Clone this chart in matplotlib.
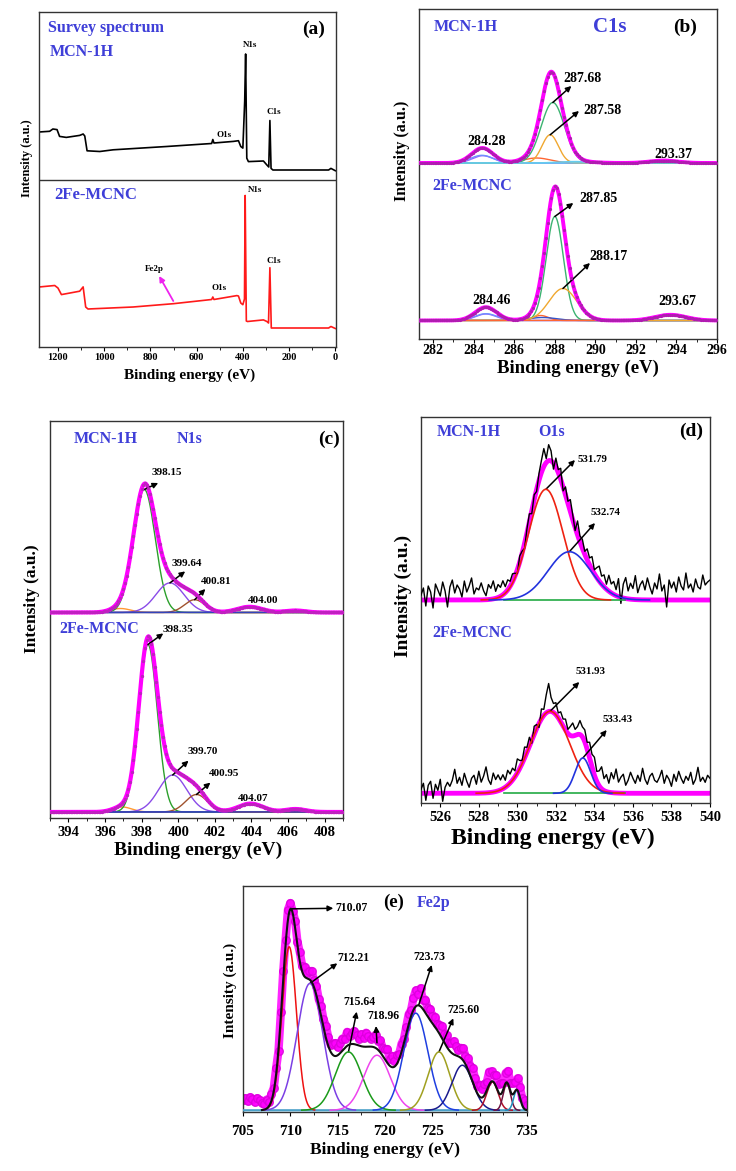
import numpy as np
import matplotlib
matplotlib.use('Agg')
import matplotlib.pyplot as plt
from matplotlib.ticker import MultipleLocator

W, H = 736, 1171
plt.rcParams['font.family'] = ['Liberation Serif', 'DejaVu Serif']
plt.rcParams['font.weight'] = 'bold'

BLUE = '#3f3fd8'
MAG = '#ff00ff'

# ---------------- data ----------------
# (a) survey spectra (binding energy, intensity a.u.)
survey_top_be = [1282, 1236, 1222, 1204, 1193, 1164, 1106, 1091, 1084, 1074,
                 1019, 961, 730, 535, 530, 525, 441, 419, 409, 400,
                 392, 388, 383, 376, 311, 296, 288, 283, 278, 270,
                 29, 19, 0]
survey_top_int = [215, 215.7, 218, 217.4, 210.6, 209.6, 211.6, 213, 211, 196.2,
                  195.5, 197.2, 200.5, 203.5, 207.5, 204, 205.6, 206.3, 200.5, 198.9,
                  246, 293, 188.8, 185.4, 186, 182, 180, 226.5, 178.6, 177,
                  177, 178.6, 176.3]
survey_bot_be = [1282, 1214, 1200, 1185, 1106, 1091, 1080, 1070, 875, 701,
                 535, 530, 525, 426, 419, 409, 400, 393, 390, 385,
                 380, 311, 296, 289, 283, 277, 270, 29, 19, 0]
survey_bot_int = [60, 61.5, 59, 52.4, 55.8, 60.1, 40, 38, 40, 43.3,
                  47.5, 50, 47.5, 51.4, 51, 44, 42.3, 48, 151.5, 26,
                  25.5, 27.1, 25.5, 24, 79.3, 19, 19, 19, 20.5, 18.5]

# (b) C1s fitted components: centre (eV), height, FWHM
c1s_top_base = 176
c1s_top_center = [284.45, 284.40, 287.10, 287.77, 287.90, 293.37, 289.0]
c1s_top_height = [7.3, 7.7, 5.0, 28.2, 60.5, 2.5, 1.5]
c1s_top_fwhm = [1.2, 1.3, 1.6, 0.95, 1.35, 1.6, 2.0]
c1s_top_color = ['#9966ff', '#6f8fff', '#ff6633', '#f0a830', '#3cb371', '#66ccee', '#66ccee']
c1s_bot_base = 18.5
c1s_bot_center = [284.6, 284.6, 287.3, 287.4, 288.0, 288.4, 293.7]
c1s_bot_height = [6.5, 6.8, 5.0, 3.0, 104, 32, 5.7]
c1s_bot_fwhm = [1.2, 1.3, 0.9, 1.6, 1.0, 1.6, 1.8]
c1s_bot_color = ['#9966ff', '#6f8fff', '#ff6633', '#3355cc', '#3cb371', '#f0a830', '#ff6633']

# (c) N1s
n1s_top_base = 205.5
n1s_top_center = [396.85, 398.15, 399.55, 400.9, 403.9, 406.4]
n1s_top_height = [4, 123, 29.6, 12.8, 5.7, 2]
n1s_top_fwhm = [1.3, 1.4, 1.8, 1.3, 1.6, 1.3]
n1s_bot_base = 6
n1s_bot_center = [396.95, 398.35, 399.7, 401.0, 403.95, 406.4]
n1s_bot_height = [5, 167.5, 37, 17.5, 8.4, 3]
n1s_bot_fwhm = [1.2, 1.2, 1.8, 1.4, 1.6, 1.3]
n1s_color = ['#ff9933', '#2ca02c', '#8a4be8', '#a0522d', '#3344bb', '#3344bb']

# (d) O1s
o1s_top_base = 203
o1s_top_center = [531.48, 532.70]
o1s_top_height = [110.7, 48.3]
o1s_top_fwhm = [2.1, 2.6]
o1s_bot_base = 9.7
o1s_bot_center = [531.70, 533.40]
o1s_bot_height = [82, 35.3]
o1s_bot_fwhm = [2.4, 0.95]
o1s_color = ['#ee2211', '#2233dd']
o1s_step = 0.125
o1s_top_resid = [
    5, 12, -6, 14, 8, -8, 16, 10, 4, 18, 9, -7,
    13, 20, 7, 15, 11, 3, 19, 8, 14, 22, 6, 12,
    10, 17, 9, 4, 15, 11, 18, 7, 13, 9, 14, 6,
    10, 5, 8, 3, -4, 6, 2, -5, 4, 8, -3, 5,
    -2, 7, 12, 18, 4, 16, 10, -6, 9, 3, 11, -4,
    8, 2, 12, 5, -3, 14, 6, 9, 3, 11, 7, 13,
    4, 10, 15, 8, 12, 5, 16, 9, 13, 6, 18, -6,
    14, 21, 8, 16, 11, 24, 7, 15, 19, 10, 22, 13,
    6, 17, 11, 26, 9, 15, -7, 20, 12, 18, 8, 23,
    14, 10, 27, 12, 16, 8, 21, 13, 11, 25, 15, 18, 20]
o1s_bot_resid = [
    4, 10, -7, 8, 12, -5, 9, 3, 14, -8, 6, 11,
    7, 13, 24, 10, 16, 8, 20, 12, 6, 15, 18, 9,
    22, 11, 17, 26, 13, 8, 19, 12, 16, 10, 14, 7,
    15, 9, 12, 6, 14, 8, 3, 11, 5, 9, -3, 8,
    4, -4, 10, 6, 18, 28, 14, 9, 12, 5, 10, 7,
    11, 4, 9, 13, 6, 8, 14, 10, 12, 7, 16, 13,
    18, 10, 15, 22, 12, 17, 9, 20, 14, 24, 11, 16,
    19, 8, 13, 21, 15, 10, 18, 12, 25, 14, 9, 17,
    20, 13, 11, 16, 23, 10, 18, 14, 7, 19, 12, 22,
    15, 10, 17, 13, 21, 9, 14, 26, 12, 16, 11, 18, 15]

# (e) Fe2p
fe_base = 1.7
fe_center = [709.88, 712.07, 716.14, 719.15, 723.25, 725.7, 728.17, 731.35, 732.87, 733.93]
fe_height = [163.3, 126.7, 58.3, 55.0, 97.0, 58.3, 45.0, 28.3, 26.7, 20.0]
fe_fwhm = [1.8, 3.2, 3.3, 3.3, 3.0, 2.7, 2.6, 1.4, 0.9, 0.8]
fe_color = ['#ee1111', '#7b3fe4', '#1a9a1a', '#ee44ee', '#1f3fe0', '#a0a020',
            '#1a1a8c', '#b0102a', '#701040', '#1f8fbf']
fe_step = 0.25
fe_resid = [
    10, 12, 9, 13, 11, 8, 12, 10, 7,
    6, 9, 4, 7, 3, 6, -2, 4, 8, 5, 10, 6,
    2, 7, 4, 9, 6, 10, 5, 8, 11, 7, 9, 6,
    10, 8, 12, 9, 7, 11, 13, 8, 10, 12, 9, 14,
    8, 11, 13, 10, 7, 12, 9, 14, 11, 8, 10, 13,
    9, 12, 8, 10, 14, 7, 11, 6, 9, 5, 8, 4,
    7, 10, 6, 12, 16, 11, 18, 9, 13, 8, 11, 7,
    10, 6, 9, 12, 8, 11, 7, 10, 13, 9, 6, 10,
    12, 8, 11, 9, 14, 10, 7, 12, 9, 11, 8, 13,
    10, 7, 12, 9, 11, 6, 10, 13, 8, 11, 9, 12, 10, 7, 9, 5]


def gauss(x, c, h, w):
    return h * np.exp(-4 * np.log(2) * (x - c) ** 2 / w ** 2)


def envelope(x, base, centers, heights, fwhms):
    y = np.full_like(x, base, dtype=float)
    for c, h, w in zip(centers, heights, fwhms):
        y = y + gauss(x, c, h, w)
    return y


# ---------------- figure ----------------
fig = plt.figure(figsize=(W / 100, H / 100), dpi=100)


def rect(l, t, r, b):
    return [l / W, 1 - b / H, (r - l) / W, (b - t) / H]


def T(x, y, s, size, color='k', rot=0):
    fig.text(x / W, 1 - y / H, s, fontsize=size, color=color, ha='center',
             va='center', fontweight='bold', rotation=rot)


def A(ax, tail, head, color='k'):
    ax.annotate('', xy=(head[0] / W, 1 - head[1] / H), xycoords='figure fraction',
                xytext=tail, textcoords='data',
                arrowprops=dict(arrowstyle='-|>', color=color, lw=1.1,
                                mutation_scale=8, shrinkA=0, shrinkB=0))


def style(ax, major, minor, fs, pad):
    ax.set_yticks([])
    ax.xaxis.set_major_locator(MultipleLocator(major))
    ax.xaxis.set_minor_locator(MultipleLocator(minor))
    ax.tick_params(axis='x', which='major', direction='out', labelsize=fs, pad=pad,
                   length=3, width=0.8)
    ax.tick_params(axis='x', which='minor', direction='out', length=1.8, width=0.6)
    for s in ax.spines.values():
        s.set_linewidth(1.0)
        s.set_color('#333333')


# ---- (a) survey ----
ax = fig.add_axes(rect(39, 12, 336, 347))
ax.plot(survey_top_be, survey_top_int, color='k', lw=1.2)
ax.plot(survey_bot_be, survey_bot_int, color='#ff1a1a', lw=1.2)
ax.axhline(167, color='#333333', lw=1.0)
ax.set_xlim(1282, -3)
ax.set_ylim(0, 335)
style(ax, 200, 100, 7.5, 1.5)
ax.annotate('', xy=(762, 71), xytext=(701, 46), xycoords='data',
            arrowprops=dict(arrowstyle='-|>', color='#ee22ee', lw=1.3,
                            mutation_scale=8, shrinkA=0, shrinkB=0))
T(106, 27.6, 'Survey spectrum', 11.5, BLUE)
T(81.5, 52, 'MCN-1H', 11.5, BLUE)
T(314, 29, '(a)', 14)
T(250.5, 45, 'N1s', 6.5)
T(273.5, 112, 'C1s', 6.5)
T(224.5, 135, 'O1s', 6.5)
T(96, 195, '2Fe-MCNC', 12, BLUE)
T(255.5, 190, 'N1s', 6.5)
T(273.5, 261, 'C1s', 6.5)
T(154.5, 269, 'Fe2p', 6.5)
T(219, 288, 'O1s', 6.5)
T(190, 375, 'Binding energy (eV)', 11)
T(27, 158, 'Intensity (a.u.)', 9, rot=90)

# ---- (b) C1s ----
ax = fig.add_axes(rect(419, 9, 717, 339))
xb = np.linspace(281.3, 296, 1200)
xbd = np.arange(281.35, 296, 0.09)
for base, cs, hs, ws, cols in [
        (c1s_top_base, c1s_top_center, c1s_top_height, c1s_top_fwhm, c1s_top_color),
        (c1s_bot_base, c1s_bot_center, c1s_bot_height, c1s_bot_fwhm, c1s_bot_color)]:
    for c, h, w, col in zip(cs, hs, ws, cols):
        ax.plot(xb, base + gauss(xb, c, h, w), color=col, lw=1.0, zorder=2)
    ax.plot(xb, envelope(xb, base, cs, hs, ws), color=MAG, lw=2.8, zorder=3)
    ax.plot(xbd, envelope(xbd, base, cs, hs, ws), 'o', color='#b01cb0', ms=1.3, zorder=4)
ax.set_xlim(281.3, 296)
ax.set_ylim(0, 330)
style(ax, 2, 1, 10, 0.8)
A(ax, (c1s_top_center[4], c1s_top_base + c1s_top_height[4]), (571.4, 86))
A(ax, (c1s_top_center[3], c1s_top_base + c1s_top_height[3]), (579, 111))
A(ax, (c1s_bot_center[4], c1s_bot_base + c1s_bot_height[4]), (573.3, 203))
A(ax, (c1s_bot_center[5], c1s_bot_base + c1s_bot_height[5]), (590, 263))
T(465.5, 26.7, 'MCN-1H', 11.5, BLUE)
T(610, 26.7, 'C1s', 15, BLUE)
T(685.5, 27, '(b)', 14)
T(486.5, 141.7, '284.28', 10)
T(583, 78, '287.68', 10)
T(602, 110, '287.58', 10)
T(673, 154, '293.37', 10)
T(472.5, 186, '2Fe-MCNC', 11.5, BLUE)
T(598, 198, '287.85', 10)
T(608, 257, '288.17', 10)
T(492, 300, '284.46', 10)
T(677, 301.7, '293.67', 10)
T(577.5, 368, 'Binding energy (eV)', 13.5)
T(402, 151, 'Intensity (a.u.)', 11.5, rot=90)

# ---- (c) N1s ----
ax = fig.add_axes(rect(50, 421, 343, 818))
xc = np.linspace(393, 409, 1200)
xcd = np.arange(393.05, 409, 0.09)
for base, cs, hs, ws in [
        (n1s_top_base, n1s_top_center, n1s_top_height, n1s_top_fwhm),
        (n1s_bot_base, n1s_bot_center, n1s_bot_height, n1s_bot_fwhm)]:
    for c, h, w, col in zip(cs, hs, ws, n1s_color):
        ax.plot(xc, base + gauss(xc, c, h, w), color=col, lw=1.0, zorder=2)
    ax.plot(xc, envelope(xc, base, cs, hs, ws), color=MAG, lw=3.0, zorder=3)
    ax.plot(xcd, envelope(xcd, base, cs, hs, ws), 'o', color='#c020c0', ms=1.4, zorder=4)
ax.set_xlim(393, 409)
ax.set_ylim(0, 397)
style(ax, 2, 1, 10.5, 2.5)
A(ax, (n1s_top_center[1], n1s_top_base + n1s_top_height[1]), (158.2, 483))
A(ax, (n1s_top_center[2], n1s_top_base + n1s_top_height[2]), (185.2, 571.4))
A(ax, (n1s_top_center[3], n1s_top_base + n1s_top_height[3]), (205.4, 589))
A(ax, (n1s_bot_center[1], n1s_bot_base + n1s_bot_height[1]), (163.3, 633.4))
A(ax, (n1s_bot_center[2], n1s_bot_base + n1s_bot_height[2]), (188.5, 760.7))
A(ax, (n1s_bot_center[3], n1s_bot_base + n1s_bot_height[3]), (210.4, 782.6))
T(106, 439, 'MCN-1H', 11.5, BLUE)
T(189.5, 439, 'N1s', 11.5, BLUE)
T(329, 439, '(c)', 14)
T(166.6, 472.8, '398.15', 8)
T(186.8, 563.7, '399.64', 8)
T(216.3, 581.2, '400.81', 8)
T(263, 600.7, '404.00', 8)
T(99.5, 629.4, '2Fe-MCNC', 11.5, BLUE)
T(178.3, 629.4, '398.35', 8)
T(202.5, 752, '399.70', 8)
T(224.5, 773.5, '400.95', 8)
T(252.8, 798.4, '404.07', 8)
T(198.6, 850, 'Binding energy (eV)', 14)
T(32, 599, 'Intensity (a.u.)', 12.5, rot=90)

# ---- (d) O1s ----
ax = fig.add_axes(rect(421, 417, 710, 803))
xd = np.linspace(525, 540, 1200)
xraw = 525 + o1s_step * np.arange(len(o1s_top_resid))
for base, cs, hs, ws, resid in [
        (o1s_top_base, o1s_top_center, o1s_top_height, o1s_top_fwhm, o1s_top_resid),
        (o1s_bot_base, o1s_bot_center, o1s_bot_height, o1s_bot_fwhm, o1s_bot_resid)]:
    ax.plot(xd, envelope(xd, base, cs, hs, ws), color=MAG, lw=3.5, zorder=2)
    ax.plot(xraw, envelope(xraw, base, cs, hs, ws) + np.array(resid), color='k', lw=1.0, zorder=3)
    m = (xd > 529.3) & (xd < 535.6)
    ax.plot(xd[m], np.full(m.sum(), base), color='#22aa44', lw=1.2, zorder=4)
    for c, h, w, col in zip(cs, hs, ws, o1s_color):
        mm = np.abs(xd - c) < 1.6 * w
        ax.plot(xd[mm], base + gauss(xd[mm], c, h, w), color=col, lw=1.2, zorder=4)
ax.set_xlim(525, 540)
ax.set_ylim(0, 386)
style(ax, 2, 1, 10.5, 3)
A(ax, (o1s_top_center[0], o1s_top_base + o1s_top_height[0]), (575, 460))
A(ax, (o1s_top_center[1], o1s_top_base + o1s_top_height[1]), (595, 523))
A(ax, (o1s_bot_center[0], o1s_bot_base + o1s_bot_height[0]), (579.3, 682))
A(ax, (o1s_bot_center[1], o1s_bot_base + o1s_bot_height[1]), (606.7, 730))
T(469, 431.7, 'MCN-1H', 11.5, BLUE)
T(551.5, 431.7, 'O1s', 11.5, BLUE)
T(691.5, 431.7, '(d)', 14)
T(592.5, 459.3, '531.79', 7.8)
T(606, 512.7, '532.74', 7.8)
T(472, 633.3, '2Fe-MCNC', 11.5, BLUE)
T(591, 671.7, '531.93', 7.8)
T(618, 720, '533.43', 7.8)
T(553, 838, 'Binding energy (eV)', 17)
T(403.3, 596, 'Intensity (a.u.)', 14, rot=90)

# ---- (e) Fe2p ----
ax = fig.add_axes(rect(243, 886, 527, 1112))
xe = np.linspace(705, 735, 1500)
xe_raw = 705 + fe_step * np.arange(len(fe_resid))
env_raw = envelope(xe_raw, fe_base, fe_center, fe_height, fe_fwhm) + np.array(fe_resid)
ax.plot(xe_raw, env_raw, '-', color=MAG, lw=6, alpha=0.85, zorder=2)
ax.plot(xe_raw, env_raw, 'o', color=MAG, mec='#d800d8', ms=5.5, alpha=0.8, zorder=2)
ax.plot(xe, np.full_like(xe, fe_base), color='#4aa0c8', lw=1.6, zorder=3)
for c, h, w, col in zip(fe_center, fe_height, fe_fwhm, fe_color):
    mm = np.abs(xe - c) < 1.5 * w
    ax.plot(xe[mm], fe_base + gauss(xe[mm], c, h, w), color=col, lw=1.1, zorder=4)
m = xe > 707.0
ax.plot(xe[m], envelope(xe[m], fe_base, fe_center, fe_height, fe_fwhm), color='#111111', lw=1.5, zorder=5)
ax.set_xlim(705, 735)
ax.set_ylim(0, 225.7)
style(ax, 5, 2.5, 11, 6.5)


def fe_env(x):
    return float(envelope(np.array([x]), fe_base, fe_center, fe_height, fe_fwhm)[0])


A(ax, (fe_center[0] + 0.2, fe_env(fe_center[0] + 0.2)), (333.3, 908.3))
A(ax, (fe_center[1], fe_base + fe_height[1]), (337.3, 963.3))
A(ax, (fe_center[2], fe_base + fe_height[2]), (356.7, 1011.7))
A(ax, (fe_center[3], fe_env(fe_center[3]) + 6), (376, 1026))
A(ax, (fe_center[4] + 0.3, fe_env(fe_center[4] + 0.3)), (431.7, 965))
A(ax, (fe_center[5], fe_base + fe_height[5]), (453.3, 1018.3))
T(394, 902.7, '(e)', 13.5)
T(433.5, 902.7, 'Fe2p', 11.5, BLUE)
T(351, 907.7, '710.07', 8.5)
T(353, 958.3, '712.21', 8.5)
T(359, 1002.3, '715.64', 8.5)
T(383, 1015.7, '718.96', 8.5)
T(429, 956.7, '723.73', 8.5)
T(463.5, 1010, '725.60', 8.5)
T(385, 1150, 'Binding energy (eV)', 12.5)
T(230, 990, 'Intensity (a.u.)', 11, rot=90)

fig.savefig('out.png', dpi=100)
